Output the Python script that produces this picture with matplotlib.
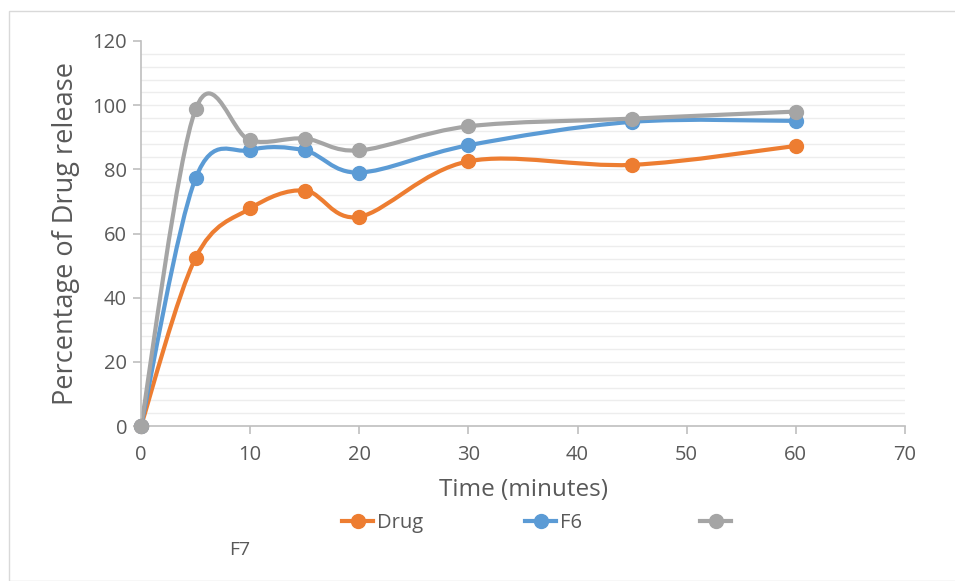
import matplotlib
matplotlib.use("Agg")
import matplotlib.pyplot as plt
from matplotlib.path import Path
from matplotlib.patches import PathPatch, Rectangle
from matplotlib.lines import Line2D
import numpy as np

plt.rcParams['font.family'] = ['Open Sans', 'DejaVu Sans']

# Dissolution data
time_min = [0, 5, 10, 15, 20, 30, 45, 60]
drug = [0, 52.4, 67.8, 73.4, 65.2, 82.5, 81.4, 87.3]
f6 = [0, 77.2, 86.0, 85.9, 79.0, 87.5, 94.8, 95.1]
f7 = [0, 98.7, 89.0, 89.6, 85.9, 93.4, 95.8, 98.0]

series_names = ["Drug", "F6", "F7"]
series_values = [drug, f6, f7]
series_colors = ["#ED7D31", "#5B9BD5", "#A5A5A5"]

x_ticks = [0, 10, 20, 30, 40, 50, 60, 70]
y_ticks = [0, 20, 40, 60, 80, 100, 120]

TEXT = "#595959"
AXIS = "#BFBFBF"
GRID = "#EDEDED"


def smooth_path(xs, ys):
    """Cardinal-spline path (Bezier segments) through the points."""
    pts = np.column_stack([xs, ys]).astype(float)
    n = len(pts)
    verts = [pts[0]]
    codes = [Path.MOVETO]
    for i in range(n - 1):
        p0 = pts[i - 1] if i > 0 else pts[i]
        p1 = pts[i]
        p2 = pts[i + 1]
        p3 = pts[i + 2] if i + 2 < n else pts[i + 1]
        c1 = p1 + (p2 - p0) / 6.0
        c2 = p2 - (p3 - p1) / 6.0
        verts += [c1, c2, p2]
        codes += [Path.CURVE4] * 3
    return Path(verts, codes)


fig = plt.figure(figsize=(9.55, 5.81), dpi=100)
W, H = 955, 581

# chart area border
fig.patches.append(Rectangle((9 / W, 0), 1, 1 - 11 / H, transform=fig.transFigure,
                             fill=False, edgecolor="#D9D9D9", linewidth=1.0))

ax = fig.add_axes([141 / W, 1 - 426 / H, (905 - 141) / W, (426 - 41) / H])
ax.set_xlim(0, 70)
ax.set_ylim(0, 120)

# light horizontal gridlines every 4 units
for gy in np.arange(4, 120, 4):
    ax.axhline(gy, color=GRID, linewidth=1.0, zorder=0)

for name, vals, col in zip(series_names, series_values, series_colors):
    ax.add_patch(PathPatch(smooth_path(time_min, vals), facecolor="none",
                           edgecolor=col, linewidth=3.0, capstyle="round",
                           joinstyle="round", zorder=2))
    ax.plot(time_min, vals, linestyle="none", marker="o", markersize=10,
            color=col, zorder=3, clip_on=False)

for side in ["top", "right"]:
    ax.spines[side].set_visible(False)
for side in ["left", "bottom"]:
    ax.spines[side].set_color(AXIS)
    ax.spines[side].set_linewidth(1.2)

ax.set_xticks(x_ticks)
ax.set_yticks(y_ticks)
ax.tick_params(axis="both", colors=AXIS, length=6, width=1.2, direction="out",
               labelcolor=TEXT, labelsize=14.5)
ax.tick_params(axis="x", pad=8)
ax.tick_params(axis="y", pad=4)

ax.set_xlabel("Time (minutes)", color=TEXT, fontsize=17.5, labelpad=9)
ax.set_ylabel("Percentage of Drug release", color=TEXT, fontsize=19.5, labelpad=9)

# legend entries, placed one by one along the bottom
legend_x = [342, 525, 700]
legend_labels = ["Drug", "F6", ""]
for lx, lab, col in zip(legend_x, legend_labels, series_colors):
    h = Line2D([0], [0], color=col, linewidth=3.0, marker="o", markersize=10)
    fig.legend([h], [lab], loc="center left",
               bbox_to_anchor=(lx / W, 1 - 523 / H), frameon=False,
               fontsize=14.5, labelcolor=TEXT, handlelength=1.55,
               handletextpad=0.2, borderpad=0, borderaxespad=0)
fig.text(240 / W, 1 - 550 / H, series_names[2], color=TEXT, fontsize=14,
         ha="center", va="center")

fig.savefig("out.png", dpi=100)
